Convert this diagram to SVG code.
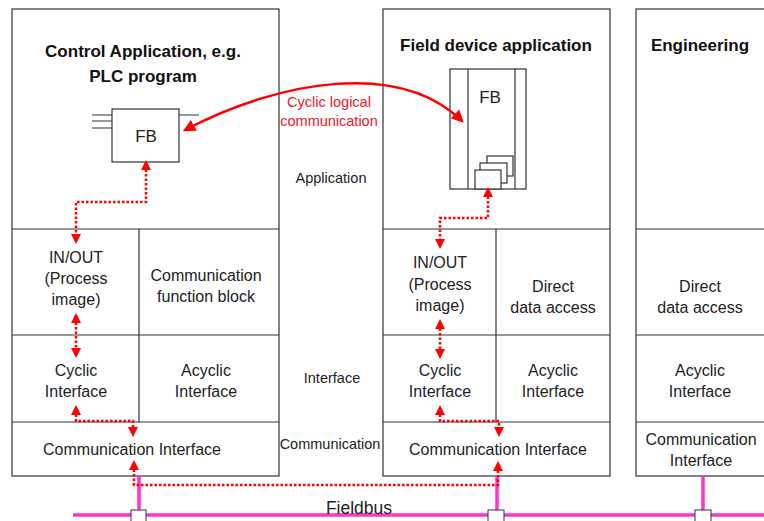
<svg xmlns="http://www.w3.org/2000/svg" width="764" height="521" viewBox="0 0 764 521">
<style>
.box{fill:#fff;stroke:#333;stroke-width:1.2}
.ln{stroke:#333;stroke-width:1.2;fill:none}
.t{font-family:"Liberation Sans",Arial,sans-serif;font-size:16px;fill:#222;text-anchor:middle}
.h{font-family:"Liberation Sans",Arial,sans-serif;font-size:17px;font-weight:bold;fill:#111;text-anchor:middle}
.s{font-family:"Liberation Sans",Arial,sans-serif;font-size:14.5px;fill:#222;text-anchor:middle}
.r{font-family:"Liberation Sans",Arial,sans-serif;font-size:14.5px;fill:#e8202a;text-anchor:middle}
.dot{fill:none;stroke:#f00;stroke-width:2.5;stroke-dasharray:2.5 2;marker-start:url(#ah);marker-end:url(#ah)}
.bus{stroke:#ff33cc;stroke-width:3.5;fill:none}
.sq{fill:#fff;stroke:#333;stroke-width:1}
</style>
<defs>
<marker id="ah" viewBox="0 0 10 10" refX="5" refY="5" markerWidth="4" markerHeight="4" orient="auto-start-reverse" markerUnits="strokeWidth"><path d="M0,0 L10,5 L0,10 z" fill="#f00"/></marker>
<marker id="ah2" viewBox="0 0 10 10" refX="8" refY="5" markerWidth="5" markerHeight="5" orient="auto-start-reverse" markerUnits="strokeWidth"><path d="M0,0 L10,5 L0,10 z" fill="#f00"/></marker>
</defs>
<rect width="764" height="521" fill="#fff"/>

<g id="control">
<rect class="box" x="12" y="9" width="267" height="467"/>
<path class="ln" d="M12 229H279M12 335H279M12 422H279M139 229V422"/>
<text class="h" x="143" y="57">Control Application, e.g.</text>
<text class="h" x="143" y="82">PLC program</text>
<g id="fb-left">
<path class="ln" d="M92 115H112M92 121H112M92 128H112M179 115H199"/>
<rect class="box" x="112" y="109" width="67" height="53"/>
<text class="t" x="146" y="142" style="font-size:17px">FB</text>
</g>
<text class="t" x="76" y="263">IN/OUT</text>
<text class="t" x="76" y="284">(Process</text>
<text class="t" x="76" y="305">image)</text>
<text class="t" x="206" y="281">Communication</text>
<text class="t" x="206" y="302">function block</text>
<text class="t" x="76" y="376">Cyclic</text>
<text class="t" x="76" y="397">Interface</text>
<text class="t" x="206" y="376">Acyclic</text>
<text class="t" x="206" y="397">Interface</text>
<text class="t" x="132" y="455">Communication Interface</text>
</g>

<g id="field">
<rect class="box" x="383" y="9" width="227" height="467"/>
<path class="ln" d="M383 229H610M383 335H610M383 422H610M496 229V422"/>
<text class="h" x="496" y="51">Field device application</text>
<g id="fb-right">
<rect class="box" x="450" y="69" width="76" height="120"/>
<path class="ln" d="M468 69V189M515 69V189"/>
<text class="t" x="490" y="103" style="font-size:17px">FB</text>
<rect class="box" x="487" y="156" width="26" height="20"/>
<rect class="box" x="480" y="163" width="27" height="20"/>
<rect class="box" x="475" y="170" width="26" height="19"/>
</g>
<text class="t" x="440" y="268">IN/OUT</text>
<text class="t" x="440" y="290">(Process</text>
<text class="t" x="440" y="311">image)</text>
<text class="t" x="553" y="292">Direct</text>
<text class="t" x="553" y="313">data access</text>
<text class="t" x="440" y="376">Cyclic</text>
<text class="t" x="440" y="397">Interface</text>
<text class="t" x="553" y="376">Acyclic</text>
<text class="t" x="553" y="397">Interface</text>
<text class="t" x="498" y="455">Communication Interface</text>
</g>

<g id="engineering">
<rect class="box" x="636" y="9" width="160" height="467"/>
<path class="ln" d="M636 229H764M636 335H764M636 422H764"/>
<text class="h" x="700" y="51">Engineering</text>
<text class="t" x="700" y="292">Direct</text>
<text class="t" x="700" y="313">data access</text>
<text class="t" x="700" y="376">Acyclic</text>
<text class="t" x="700" y="397">Interface</text>
<text class="t" x="701" y="445">Communication</text>
<text class="t" x="701" y="466">Interface</text>
</g>

<g id="layer-labels">
<text class="s" x="331" y="183">Application</text>
<text class="s" x="332" y="383">Interface</text>
<text class="s" x="330" y="449">Communication</text>
</g>

<g id="fieldbus">
<path class="bus" d="M73 515H764M139 476V515M497 476V515M703 476V515"/>
<rect class="sq" x="131" y="510" width="15" height="14"/>
<rect class="sq" x="488" y="510" width="16" height="14"/>
<rect class="sq" x="695" y="510" width="16" height="14"/>
<text class="t" x="359" y="514" style="font-size:17.5px">Fieldbus</text>
</g>

<g id="connectors">
<path d="M185 130 C280 80 400 60 462 121" fill="none" stroke="#f00" stroke-width="2.5" marker-start="url(#ah2)" marker-end="url(#ah2)"/>
<text class="r" x="329" y="107">Cyclic logical</text>
<text class="r" x="329" y="126">communication</text>
<path class="dot" d="M146 165V202H76V239"/>
<path class="dot" d="M76 318V353"/>
<path class="dot" d="M76 410V421H133V432"/>
<path class="dot" d="M134 465V485H498V466"/>
<path class="dot" d="M488 192V218H440V244"/>
<path class="dot" d="M440 324V354"/>
<path class="dot" d="M440 410V421H499V432"/>
</g>
</svg>
